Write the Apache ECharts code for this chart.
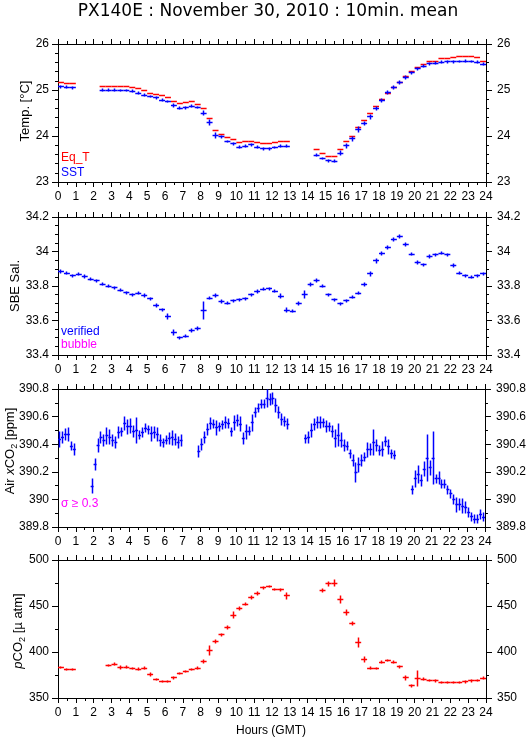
<!DOCTYPE html>
<html>
<head>
<meta charset="utf-8">
<script src="https://cdn.jsdelivr.net/npm/echarts@6/dist/echarts.min.js"></script>
<style>html,body{margin:0;padding:0;background:#fff}#c{width:529px;height:739px}</style>
</head>
<body>
<div id="c"></div>
<script>
// 20-minute sampling grid (slot start, hours GMT)
const HOURS = Array.from({length: 72}, (_, i) => i / 3);
const X_TICKS = [0, 24, 1];

const EQ_T = [
  25.17, 25.15, 25.14,  null, null, null,  null, 25.08, 25.08,
  25.08, 25.08, 25.07,  25.06, 25.04, 24.99,  24.93, 24.90, 24.87,
  24.83, 24.76, 24.70,  24.73, 24.74, 24.69,  24.60, 24.37, 24.12,
  24.04, 23.97, 23.92,  23.85, 23.87, 23.89,  23.85, 23.83, 23.83,
  23.86, 23.88, 23.88,  null, null, null,  null, 23.70, 23.63,
  23.56, 23.56, 23.70,  23.87, 24.00, 24.18,  24.33, 24.48, 24.64,
  24.80, 24.93, 25.06,  25.17, 25.29, 25.41,  25.50, 25.56, 25.61,
  25.63, 25.68, 25.68,  25.71, 25.72, 25.73,  25.73, 25.70, 25.63
];
const SST = [
  25.07, 25.06, 25.05,  null, null, null,  null, 25.00, 25.00,
  25.00, 24.99, 24.99,  24.97, 24.93, 24.89,  24.86, 24.83, 24.78,
  24.75, 24.67, 24.60,  24.61, 24.65, 24.62,  24.50, 24.30, 24.01,
  23.98, 23.88, 23.83,  23.76, 23.78, 23.81,  23.76, 23.72, 23.72,
  23.75, 23.78, 23.78,  null, null, null,  null, 23.58, 23.51,
  23.46, 23.45, 23.63,  23.79, 23.94, 24.14,  24.27, 24.42, 24.60,
  24.77, 24.94, 25.05,  25.16, 25.28, 25.37,  25.46, 25.52, 25.57,
  25.58, 25.60, 25.61,  25.61, 25.62, 25.63,  25.62, 25.60, 25.56
];
const SST_SD = [
  0.02, 0.02, 0.02,  0, 0, 0,  0, 0.02, 0.02,
  0.02, 0.02, 0.02,  0.02, 0.02, 0.02,  0.02, 0.02, 0.02,
  0.02, 0.03, 0.02,  0.02, 0.02, 0.02,  0.04, 0.05, 0.05,
  0.03, 0.02, 0.02,  0.02, 0.02, 0.02,  0.02, 0.02, 0.02,
  0.02, 0.02, 0.02,  0, 0, 0,  0, 0.02, 0.02,
  0.02, 0.02, 0.04,  0.04, 0.04, 0.05,  0.04, 0.04, 0.04,
  0.04, 0.03, 0.03,  0.03, 0.03, 0.03,  0.02, 0.02, 0.02,
  0.02, 0.02, 0.02,  0.02, 0.02, 0.02,  0.02, 0.02, 0.02
];

const SAL = [
  33.884, 33.875, 33.860,  33.868, 33.855, 33.840,  33.830, 33.810, 33.800,
  33.790, 33.775, 33.762,  33.748, 33.758, 33.745,  33.725, 33.685, 33.662,
  33.625, 33.530, 33.500,  33.510, 33.540, 33.555,  33.660, 33.730, 33.745,
  33.710, 33.700, 33.715,  33.720, 33.725, 33.750,  33.768, 33.780, 33.785,
  33.770, 33.740, 33.660,  33.655, 33.700, 33.750,  33.810, 33.832, 33.800,
  33.750, 33.720, 33.697,  33.715, 33.735, 33.757,  33.810, 33.870, 33.945,
  33.990, 34.025, 34.068,  34.087, 34.040, 33.985,  33.935, 33.922, 33.972,
  33.980, 33.990, 33.982,  33.920, 33.875, 33.860,  33.850, 33.858, 33.870
];
const SAL_SD = [
  0.006, 0.006, 0.006,  0.006, 0.006, 0.006,  0.006, 0.006, 0.006,
  0.006, 0.006, 0.006,  0.006, 0.006, 0.006,  0.006, 0.008, 0.006,
  0.015, 0.015, 0.006,  0.006, 0.008, 0.008,  0.050, 0.008, 0.008,
  0.006, 0.006, 0.006,  0.006, 0.006, 0.006,  0.006, 0.006, 0.006,
  0.006, 0.012, 0.010,  0.006, 0.008, 0.020,  0.010, 0.006, 0.008,
  0.006, 0.006, 0.006,  0.006, 0.006, 0.006,  0.010, 0.010, 0.012,
  0.008, 0.008, 0.008,  0.006, 0.010, 0.008,  0.008, 0.006, 0.008,
  0.006, 0.006, 0.006,  0.010, 0.006, 0.006,  0.006, 0.006, 0.006
];

// Air xCO2: 10-minute points
const XCO2_HOURS = [
  0.083, 0.25, 0.417, 0.583, 0.75, 0.917,
  1.917, 2.083, 2.25, 2.417, 2.583, 2.75, 2.917, 3.083, 3.25, 3.417, 3.583, 3.75, 3.917,
  4.083, 4.25, 4.417, 4.583, 4.75, 4.917, 5.083, 5.25, 5.417, 5.583, 5.75, 5.917,
  6.083, 6.25, 6.417, 6.583, 6.75, 6.917,
  7.917, 8.083, 8.25, 8.417, 8.583, 8.75, 8.917, 9.083, 9.25, 9.417, 9.583, 9.75, 9.917,
  10.083, 10.25, 10.417, 10.583, 10.75, 10.917, 11.083, 11.25, 11.417, 11.583, 11.75, 11.917,
  12.083, 12.25, 12.417, 12.583, 12.75, 12.917,
  13.917, 14.083, 14.25, 14.417, 14.583, 14.75, 14.917, 15.083, 15.25, 15.417, 15.583, 15.75, 15.917,
  16.083, 16.25, 16.417, 16.583, 16.75, 16.917, 17.083, 17.25, 17.417, 17.583, 17.75, 17.917,
  18.083, 18.25, 18.417, 18.583, 18.75, 18.917,
  19.917, 20.083, 20.25, 20.417, 20.583, 20.75, 20.917, 21.083, 21.25, 21.417, 21.583, 21.75, 21.917,
  22.083, 22.25, 22.417, 22.583, 22.75, 22.917, 23.083, 23.25, 23.417, 23.583, 23.75, 23.917
];
const XCO2 = [
  390.435, 390.45, 390.47, 390.47, 390.385, 390.36,
  390.095, 390.25, 390.39, 390.45, 390.43, 390.46, 390.45, 390.43, 390.41, 390.485, 390.49, 390.55, 390.525,
  390.53, 390.49, 390.50, 390.465, 390.485, 390.515, 390.505, 390.475, 390.485, 390.47, 390.43, 390.41,
  390.43, 390.44, 390.445, 390.435, 390.41, 390.43,
  390.35, 390.40, 390.45, 390.51, 390.55, 390.545, 390.52, 390.525, 390.54, 390.555, 390.55, 390.49, 390.555,
  390.575, 390.545, 390.44, 390.49, 390.495, 390.555, 390.63, 390.66, 390.69, 390.69, 390.73, 390.725,
  390.73, 390.68, 390.63, 390.58, 390.565, 390.545,
  390.44, 390.45, 390.50, 390.545, 390.56, 390.555, 390.555, 390.53, 390.525, 390.49, 390.44, 390.465, 390.43,
  390.39, 390.385, 390.33, 390.28, 390.195, 390.25, 390.28, 390.305, 390.36, 390.365, 390.41, 390.39,
  390.355, 390.365, 390.42, 390.38, 390.33, 390.32,
  390.07, 390.148, 390.18, 390.14, 390.22, 390.30, 390.23, 390.30, 390.148, 390.155, 390.11, 390.11, 390.07,
  390.04, 390.00, 389.96, 389.96, 389.95, 389.94, 389.905, 389.875, 389.856, 389.856, 389.89, 389.87
];
const XCO2_SD = [
  0.055, 0.04, 0.04, 0.05, 0.03, 0.04,
  0.05, 0.04, 0.05, 0.04, 0.04, 0.06, 0.05, 0.04, 0.04, 0.04, 0.03, 0.05, 0.05,
  0.05, 0.04, 0.09, 0.03, 0.03, 0.03, 0.03, 0.05, 0.04, 0.05, 0.04, 0.03,
  0.03, 0.04, 0.05, 0.04, 0.04, 0.04,
  0.04, 0.04, 0.04, 0.04, 0.04, 0.03, 0.05, 0.03, 0.03, 0.04, 0.03, 0.03, 0.05,
  0.04, 0.05, 0.04, 0.05, 0.03, 0.06, 0.03, 0.03, 0.03, 0.03, 0.06, 0.04,
  0.04, 0.05, 0.04, 0.04, 0.03, 0.035,
  0.03, 0.04, 0.05, 0.04, 0.04, 0.04, 0.03, 0.04, 0.03, 0.04, 0.06, 0.08, 0.05,
  0.04, 0.03, 0.03, 0.04, 0.07, 0.05, 0.04, 0.03, 0.05, 0.04, 0.09, 0.04,
  0.03, 0.05, 0.03, 0.05, 0.03, 0.03,
  0.03, 0.06, 0.06, 0.04, 0.05, 0.165, 0.05, 0.19, 0.03, 0.04, 0.03, 0.03, 0.03,
  0.03, 0.03, 0.05, 0.04, 0.05, 0.04, 0.03, 0.03, 0.03, 0.03, 0.03, 0.03
];

const PCO2 = [
  383.0, 381.0, 381.0,  null, null, null,  null, null, 385.5,
  386.8, 383.0, 383.5,  382.0, 381.5, 382.5,  375.5, 370.0, 368.0,
  367.8, 372.0, 376.5,  378.9, 381.0, 382.4,  389.5, 402.0, 411.5,
  418.5, 427.0, 440.0,  447.5, 452.0, 459.0,  464.0, 470.0, 471.0,
  468.0, 467.5, 461.0,  null, null, null,  null, null, 467.0,
  474.0, 475.0, 457.0,  443.0, 431.0, 410.0,  392.0, 382.5, 382.0,
  389.0, 391.0, 389.0,  384.0, 372.0, 363.5,  371.5, 370.5, 369.0,
  368.5, 367.0, 367.0,  367.0, 367.0, 367.5,  368.5, 369.0, 371.7
];
const PCO2_SD = [
  0.8, 0.8, 0.8,  0, 0, 0,  0, 0, 0.8,
  0.8, 2.0, 0.8,  0.8, 0.8, 0.8,  1.5, 0.8, 0.8,
  0.8, 1.0, 0.8,  0.8, 0.8, 0.8,  1.5, 5.0, 2.0,
  1.5, 1.5, 3.0,  1.5, 1.0, 1.5,  1.5, 1.0, 0.8,
  0.8, 0.8, 3.0,  0, 0, 0,  0, 0, 1.5,
  2.0, 3.0, 4.0,  2.5, 2.0, 5.0,  3.0, 1.0, 0.8,
  1.0, 0.8, 0.8,  1.0, 2.0, 1.0,  8.0, 1.0, 0.8,
  0.8, 0.8, 0.8,  0.8, 0.8, 0.8,  0.8, 0.8, 0.8
];

const Y_AXES = [
  {min: 23, max: 26, interval: 1, minor: 5},
  {min: 33.4, max: 34.2, interval: 0.2, minor: 4},
  {min: 389.8, max: 390.8, interval: 0.2, minor: 2},
  {min: 350, max: 500, interval: 50, minor: 2}
];
</script>
<script>
const FONT = 'Liberation Sans, Arial, sans-serif';
const GRID_TOPS = [44, 217, 389, 560];
const LW = 1.5;
const snap = p => Math.round(p - 0.5) + 0.5;

const grids = GRID_TOPS.map(t => ({left: 58, width: 428, top: t, height: 138}));
const xAxes = [], yAxes = [];
GRID_TOPS.forEach((t, k) => {
  ['bottom', 'top'].forEach(pos => {
    xAxes.push({
      gridIndex: k, type: 'value', position: pos,
      min: X_TICKS[0], max: X_TICKS[1], interval: X_TICKS[2],
      axisLine: {onZero: false, lineStyle: {color: '#000', width: 1}},
      axisTick: {show: true, inside: false, length: 5, lineStyle: {color: '#000'}},
      minorTick: {show: true, splitNumber: 2, length: 3, lineStyle: {color: '#000'}},
      splitLine: {show: false}, minorSplitLine: {show: false},
      axisLabel: {show: pos === 'bottom', margin: 9, color: '#000', fontFamily: FONT, fontSize: 12,
                  showMinLabel: true, showMaxLabel: true}
    });
  });
  const ya = Y_AXES[k];
  ['left', 'right'].forEach(pos => {
    yAxes.push({
      gridIndex: k, type: 'value', position: pos,
      min: ya.min, max: ya.max, interval: ya.interval,
      axisLine: {show: true, onZero: false, lineStyle: {color: '#000', width: 1}},
      axisTick: {show: true, inside: false, length: 6, lineStyle: {color: '#000'}},
      minorTick: {show: true, splitNumber: ya.minor, length: 3, lineStyle: {color: '#000'}},
      splitLine: {show: false}, minorSplitLine: {show: false},
      axisLabel: {show: true, margin: pos === 'left' ? 9 : 11, color: '#000', fontFamily: FONT, fontSize: 12,
                  showMinLabel: true, showMaxLabel: true}
    });
  });
});

function crossSeries(k, times, vals, sds, halfW, color) {
  const data = [];
  times.forEach((t, i) => {
    if (vals[i] != null) data.push([t, vals[i], sds ? sds[i] : 0]);
  });
  return {
    type: 'custom', xAxisIndex: 2 * k, yAxisIndex: 2 * k, data,
    encode: {x: 0, y: 1}, clip: true, silent: true, animation: false,
    renderItem(params, api) {
      const t = api.value(0), v = api.value(1), s = api.value(2);
      const a = api.coord([t - halfW, v]), b = api.coord([t + halfW, v]);
      const y = snap(a[1]);
      const ch = [{type: 'line', shape: {x1: a[0], y1: y, x2: b[0], y2: y},
                   style: {stroke: color, lineWidth: LW}}];
      if (s > 0) {
        const c = api.coord([t, v - s]), d = api.coord([t, v + s]);
        const x = snap(c[0]);
        ch.push({type: 'line', shape: {x1: x, y1: Math.round(c[1]) + 0.5, x2: x, y2: Math.round(d[1]) - 0.5},
                 style: {stroke: color, lineWidth: LW}});
      }
      return {type: 'group', children: ch};
    }
  };
}

const CENTERS = HOURS.map(h => h + 1 / 6);
const series = [
  crossSeries(0, CENTERS, EQ_T, null, 1 / 6, '#ff0000'),
  crossSeries(0, CENTERS, SST, SST_SD, 1 / 6, '#0000ff'),
  crossSeries(1, CENTERS, SAL, SAL_SD, 1 / 6, '#0000ff'),
  crossSeries(2, XCO2_HOURS, XCO2, XCO2_SD, 1 / 12, '#0000ff'),
  crossSeries(3, CENTERS, PCO2, PCO2_SD, 1 / 6, '#ff0000')
];

function txt(x, y, text, size, color) {
  return {type: 'text', x, y, silent: true,
    style: {text, fill: color || '#000', font: size + 'px ' + FONT, align: 'left', verticalAlign: 'middle'}};
}
function vname(x, y, text, rich) {
  return {type: 'text', x, y, rotation: Math.PI / 2, silent: true,
    style: {text, fill: '#000', fontFamily: FONT, fontSize: 13, align: 'center', verticalAlign: 'middle', rich}};
}
const R = {
  b: {fontFamily: FONT, fontSize: 13, lineHeight: 18, fill: '#000'},
  it: {fontFamily: FONT, fontSize: 13, lineHeight: 18, fontStyle: 'italic', fill: '#000'},
  sub: {fontFamily: FONT, fontSize: 9, lineHeight: 10, verticalAlign: 'bottom', fill: '#000'}
};

const graphic = [
  {type: 'text', x: 268, y: 12, silent: true,
   style: {text: 'PX140E : November 30, 2010 : 10min. mean', fill: '#000',
           font: '17px DejaVu Sans, sans-serif', align: 'center', verticalAlign: 'middle'}},
  vname(25, 111, 'Temp. [°C]'),
  vname(15, 286, 'SBE Sal.'),
  vname(10, 451, '{b|Air }{it|x}{b|CO}{sub|2}{b| [ppm]}', R),
  vname(18, 631, '{it|p}{b|CO}{sub|2}{b| [µ atm]}', R),
  {type: 'text', x: 271, y: 731, silent: true,
   style: {text: 'Hours (GMT)', fill: '#000', font: '12px ' + FONT, align: 'center', verticalAlign: 'middle'}},
  txt(61, 158, 'Eq_T', 12, '#ff0000'),
  txt(61, 173, 'SST', 12, '#0000ff'),
  txt(61, 332, 'verified', 12, '#0000ff'),
  txt(61, 345, 'bubble', 12, '#ff00ff'),
  txt(61, 504, 'σ ≥ 0.3', 12, '#ff00ff')
];

const chart = echarts.init(document.getElementById('c'), null, {renderer: 'canvas'});
chart.setOption({
  backgroundColor: '#fff', animation: false,
  grid: grids, xAxis: xAxes, yAxis: yAxes, series, graphic
});
</script>
</body>
</html>
